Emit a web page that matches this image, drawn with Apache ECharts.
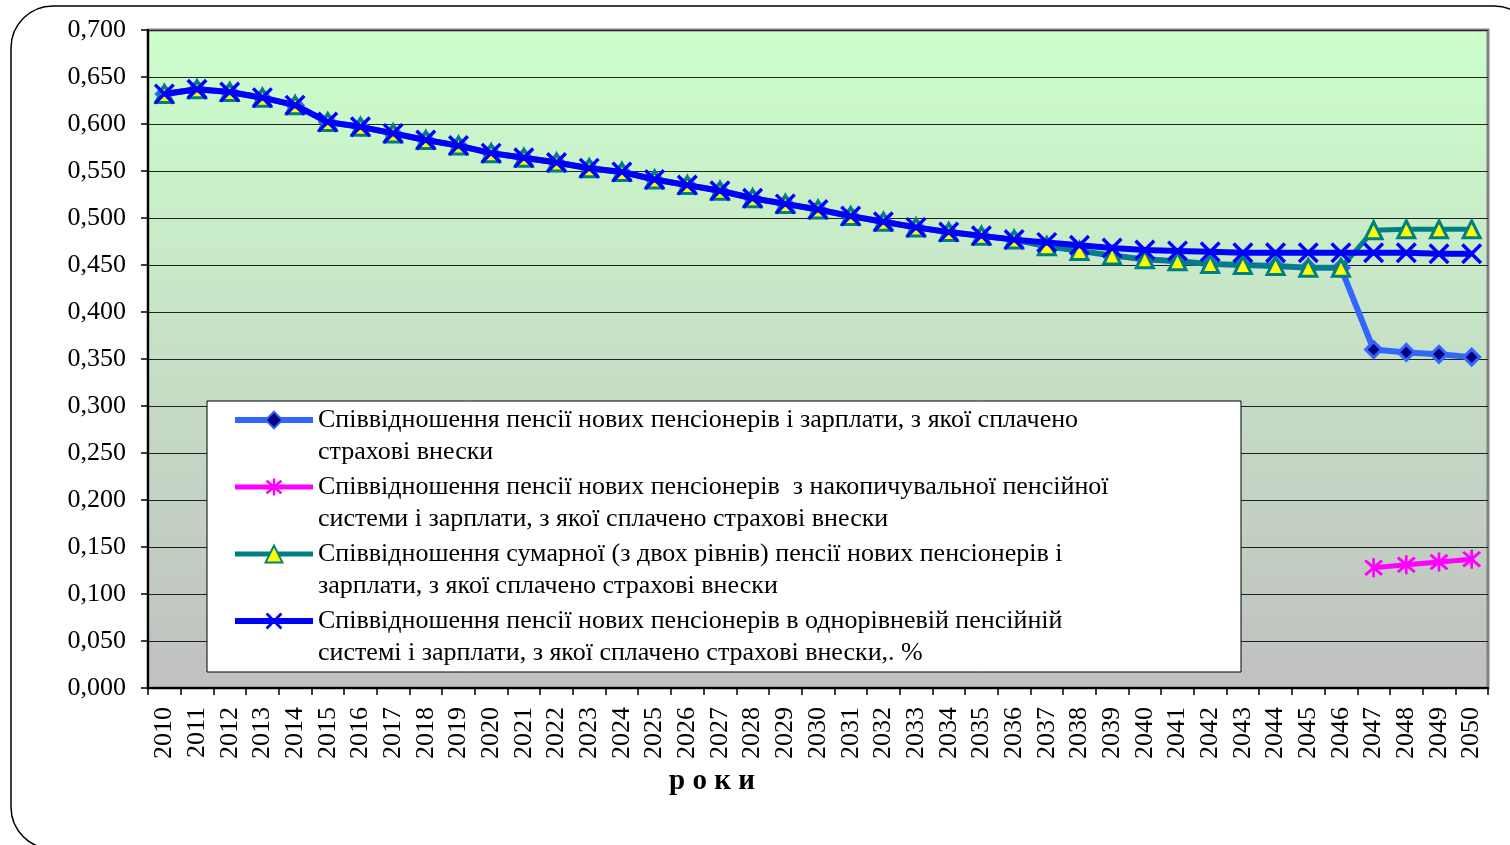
<!DOCTYPE html>
<html>
<head>
<meta charset="utf-8">
<script src="https://cdn.jsdelivr.net/npm/echarts@6/dist/echarts.min.js"></script>
<style>
html,body{margin:0;padding:0;background:#fff;}
#chart{width:1510px;height:845px;}
</style>
</head>
<body>
<div id="chart"></div>
<script>
const years = ['2010','2011','2012','2013','2014','2015','2016','2017','2018','2019','2020','2021','2022','2023','2024','2025','2026','2027','2028','2029','2030','2031','2032','2033','2034','2035','2036','2037','2038','2039','2040','2041','2042','2043','2044','2045','2046','2047','2048','2049','2050'];

const seriesNames = [
  ['Співвідношення пенсії нових пенсіонерів і зарплати, з якої сплачено', 'страхові внески'],
  ['Співвідношення пенсії нових пенсіонерів  з накопичувальної пенсійної', 'системи і зарплати, з якої сплачено страхові внески'],
  ['Співвідношення сумарної (з двох рівнів) пенсії нових пенсіонерів і', 'зарплати, з якої сплачено страхові внески'],
  ['Співвідношення пенсії нових пенсіонерів в однорівневій пенсійній', 'системі і зарплати, з якої сплачено страхові внески,. %']
];

const pensionSolidarity = [0.632,0.637,0.634,0.628,0.620,0.602,0.597,0.590,0.583,0.577,0.569,0.564,0.559,0.553,0.549,0.541,0.535,0.529,0.521,0.515,0.509,0.502,0.496,0.490,0.485,0.481,0.477,0.470,0.465,0.460,0.456,0.454,0.451,0.450,0.449,0.447,0.447,0.360,0.357,0.355,0.352];
const pensionFunded = [null,null,null,null,null,null,null,null,null,null,null,null,null,null,null,null,null,null,null,null,null,null,null,null,null,null,null,null,null,null,null,null,null,null,null,null,null,0.128,0.131,0.134,0.137];
const pensionTotal = [0.632,0.637,0.634,0.628,0.620,0.602,0.597,0.590,0.583,0.577,0.569,0.564,0.559,0.553,0.549,0.541,0.535,0.529,0.521,0.515,0.509,0.502,0.496,0.490,0.485,0.481,0.477,0.470,0.465,0.460,0.456,0.454,0.451,0.450,0.449,0.447,0.447,0.487,0.488,0.488,0.488];
const pensionSingleLevel = [0.632,0.637,0.634,0.628,0.620,0.602,0.597,0.590,0.583,0.577,0.569,0.564,0.559,0.553,0.549,0.541,0.535,0.529,0.521,0.515,0.509,0.502,0.496,0.490,0.485,0.481,0.477,0.474,0.471,0.468,0.466,0.465,0.464,0.463,0.463,0.463,0.463,0.463,0.463,0.462,0.462];

const xAxisTitle = 'р о к и';

const SERIF = '"Liberation Serif", "Times New Roman", serif';
const crossPath = 'path://M0,2.3L2.3,0L20,17.7L17.7,20Z M17.7,0L20,2.3L2.3,20L0,17.7Z';
const starPath = 'path://M0,2.3L2.3,0L20,17.7L17.7,20Z M17.7,0L20,2.3L2.3,20L0,17.7Z M8.6,-1.5L11.4,-1.5L11.4,21.5L8.6,21.5Z';

const nameOf = i => seriesNames[i].join(' ');
const legendText = {};
seriesNames.forEach((n, i) => { legendText[nameOf(i)] = '\n' + n[0] + '\n' + n[1]; });

const lineColors = ['#3366ff', '#ff00ff', '#008080', '#0000ff'];
const lineWidths = [6, 5, 5, 6];

const chart = echarts.init(document.getElementById('chart'), null, {renderer: 'canvas'});
chart.setOption({
  animation: false,
  backgroundColor: '#ffffff',
  textStyle: {fontFamily: SERIF},
  graphic: [
    {type: 'rect', z: 0, shape: {x: 11, y: 6, width: 1525, height: 843, r: 42},
     style: {fill: 'none', stroke: '#000', lineWidth: 1.5}},
    {type: 'rect', z: 3, shape: {x: 207, y: 401, width: 1034, height: 271},
     style: {fill: '#ffffff', stroke: '#000', lineWidth: 1}}
  ],
  grid: {
    left: 148, right: 22, top: 30, bottom: 157,
    show: true,
    borderColor: '#808080', borderWidth: 3,
    backgroundColor: {type: 'linear', x: 0, y: 0, x2: 0, y2: 1,
      colorStops: [{offset: 0, color: '#ccffcc'}, {offset: 1, color: '#c0c0c0'}]}
  },
  legend: {
    orient: 'vertical', left: 232, top: 372, padding: 0,
    itemGap: -29, itemWidth: 78, itemHeight: 21, z: 10,
    selectedMode: false,
    formatter: n => legendText[n],
    textStyle: {fontFamily: SERIF, fontSize: 26, color: '#000', lineHeight: 32},
    data: seriesNames.map((n, i) => ({
      name: nameOf(i),
      lineStyle: {width: lineWidths[i], color: lineColors[i]}
    }))
  },
  xAxis: {
    type: 'category', data: years, boundaryGap: true,
    name: xAxisTitle, nameLocation: 'middle', nameGap: 78,
    nameTextStyle: {fontFamily: SERIF, fontSize: 29, fontWeight: 'bold', color: '#000', padding: [0, 212, 0, 0]},
    axisLine: {lineStyle: {color: '#000', width: 2}},
    axisTick: {show: true, length: 7, alignWithLabel: false, interval: 0, lineStyle: {color: '#000', width: 1.5}},
    axisLabel: {rotate: 90, interval: 0, margin: 19, fontFamily: SERIF, fontSize: 26, color: '#000'},
    splitLine: {show: false}
  },
  yAxis: {
    type: 'value', min: 0, max: 0.7, interval: 0.05,
    axisLine: {show: true, lineStyle: {color: '#000', width: 2}},
    axisTick: {show: true, length: 7, lineStyle: {color: '#000', width: 1.5}},
    axisLabel: {margin: 22, fontFamily: SERIF, fontSize: 26, color: '#000',
      formatter: v => v.toFixed(3).replace('.', ',')},
    splitLine: {show: true, lineStyle: {color: '#222', width: 1}}
  },
  series: [
    {
      name: nameOf(0), type: 'line', data: pensionSolidarity, z: 4,
      symbol: 'diamond', symbolSize: 16,
      lineStyle: {color: lineColors[0], width: lineWidths[0]},
      itemStyle: {color: '#000080', borderColor: '#3366ff', borderWidth: 3}
    },
    {
      name: nameOf(1), type: 'line', data: pensionFunded, z: 5,
      symbol: starPath, symbolSize: 19,
      lineStyle: {color: lineColors[1], width: lineWidths[1]},
      itemStyle: {color: '#ff00ff'}
    },
    {
      name: nameOf(2), type: 'line', data: pensionTotal, z: 6,
      symbol: 'triangle', symbolSize: 17,
      lineStyle: {color: lineColors[2], width: lineWidths[2]},
      itemStyle: {color: '#ffff00', borderColor: '#008080', borderWidth: 3}
    },
    {
      name: nameOf(3), type: 'line', data: pensionSingleLevel, z: 7,
      symbol: crossPath, symbolSize: 21,
      lineStyle: {color: lineColors[3], width: lineWidths[3]},
      itemStyle: {color: '#0000ff'}
    }
  ]
});
</script>
</body>
</html>
